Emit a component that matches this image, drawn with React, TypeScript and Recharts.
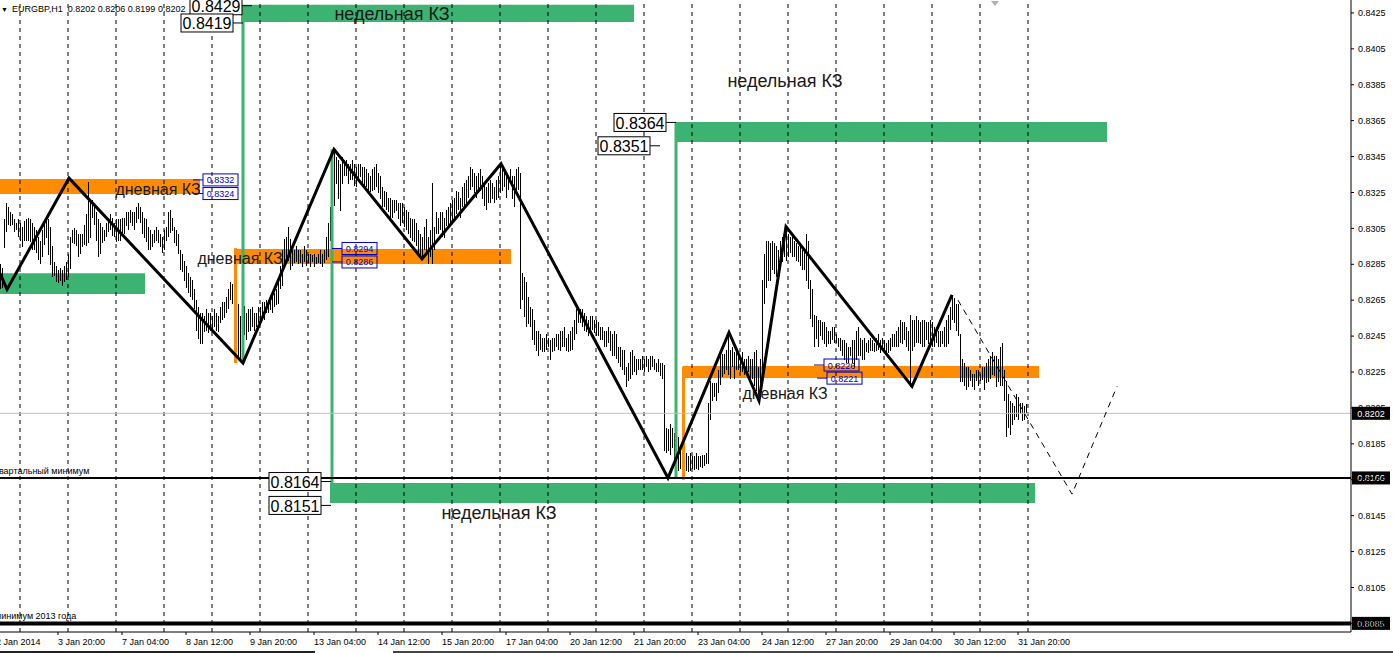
import React from 'react';
import {
  ComposedChart, Bar, Scatter, XAxis, YAxis, ReferenceLine, ReferenceArea, ReferenceDot,
} from 'recharts';

const FONT = '"Liberation Sans", Arial, sans-serif';
const W = 1393;
const H = 653;

// hourly bars, pips above 0.8000 (high / low)
const barHighs = [
  285,283,310,319,317,314,313,310,308,310, 308,306,309,310,311,310,308,306,304,300,
  298,304,308,311,310,306,295,286,284,282, 283,282,284,286,291,300,304,305,304,302,
  302,302,307,313,331,321,321,319,314,310, 308,306,304,308,310,313,311,308,310,310,
  310,311,311,314,314,315,314,314,317,319, 317,314,311,310,306,304,302,304,306,304,
  302,300,304,306,314,315,311,306,304,302, 293,291,287,284,280,278,276,271,265,261,
  258,258,256,260,258,258,256,260,258,256, 261,264,264,267,271,275,274,271,267,263,
  256,271,262,258,260,260,261,258,258,261, 261,264,264,265,265,267,267,269,271,275,
  284,293,299,300,306,299,295,293,295,293, 293,291,295,293,291,291,290,291,289,291,
  293,291,293,300,308,317,336,349,345,343, 341,345,343,343,341,341,343,341,339,341,
  341,339,339,338,336,334,338,339,341,336, 334,328,326,325,322,322,321,321,321,319,
  319,319,317,315,314,311,310,310,308,304, 302,300,306,310,300,304,330,306,314,311,
  314,314,311,315,317,319,321,322,326,325, 322,328,330,332,334,339,338,336,334,336,
  338,334,330,328,330,332,330,328,332,334, 341,338,338,336,334,338,334,334,338,339,
  336,280,278,275,267,261,260,254,248,248, 246,244,244,246,244,243,244,244,246,246,
  248,248,250,244,246,248,250,254,260,261, 260,260,258,256,254,256,256,254,254,253,
  250,250,248,248,250,248,246,248,246,239, 239,237,237,228,230,236,237,234,232,232,
  232,234,232,234,232,234,234,232,230,232, 230,230,229,194,193,196,194,191,196,189,
  181,181,178,180,178,180,178,178,180,178, 178,179,179,180,208,220,219,219,219,226,
  235,235,235,237,245,237,239,236,237,236, 234,236,232,232,234,232,232,236,237,228,
  232,276,291,298,298,297,298,297,295,293, 298,300,304,306,302,300,300,298,297,295,
  295,293,293,302,298,276,271,257,256,254, 254,253,253,250,248,248,250,250,246,244,
  244,243,243,241,239,239,243,243,248,250, 244,243,244,241,243,244,243,241,244,246,
  243,244,243,241,243,244,246,246,248,250, 254,253,253,250,248,257,254,254,256,254,
  253,254,254,253,253,254,253,250,250,248, 248,248,250,254,257,261,268,266,263,263,
  246,232,230,228,228,226,224,224,226,226, 224,228,228,230,232,234,236,234,234,232,
  239,241,226,220,213,209,208,206,213,211, 208,208,206,207,
];
const barLows = [
  271,272,294,303,307,306,307,303,304,300, 298,295,298,298,298,297,293,293,291,287,
  285,289,296,300,290,285,278,278,275,275, 276,273,275,276,278,282,297,296,295,289,
  291,295,296,295,297,300,311,307,298,289, 291,297,298,300,303,304,301,300,297,298,
  298,302,302,306,304,308,306,304,308,310, 308,302,300,297,293,293,295,297,298,297,
  295,291,293,298,300,302,304,297,295,291, 282,281,276,272,269,267,265,260,248,243,
  241,241,247,248,247,248,248,250,248,247, 252,254,255,258,260,265,263,250,237,232,
  231,243,246,243,247,248,250,248,250,252, 254,255,254,258,258,260,258,261,262,263,
  271,273,284,287,287,282,284,286,286,285, 286,284,286,284,286,284,286,284,285,286,
  285,284,286,287,289,298,306,317,330,321, 315,330,334,334,330,332,332,329,328,332,
  334,330,328,328,326,325,326,326,328,325, 321,317,317,315,314,311,311,314,315,310,
  306,308,306,304,302,300,298,297,295,291, 289,287,293,291,285,289,285,293,302,302,
  304,300,300,306,306,308,310,310,313,315, 311,317,317,319,322,326,328,325,322,325,
  326,321,317,315,319,319,321,319,321,322, 325,326,328,322,326,330,321,317,325,326,
  260,265,256,250,252,250,243,240,237,234, 237,236,236,237,239,232,236,237,239,237,
  237,239,239,237,236,237,237,243,246,252, 252,250,248,247,245,247,248,247,245,245,
  243,243,239,239,241,237,234,234,232,230, 228,226,223,217,220,221,223,225,223,226,
  226,226,225,228,225,226,228,226,225,225, 223,221,181,180,181,179,183,176,174,170,
  171,170,166,170,169,170,171,170,171,170, 172,172,173,174,174,198,209,211,209,213,
  218,222,224,226,223,221,228,221,226,226, 225,225,223,223,225,221,221,217,214,209,
  214,226,263,272,276,276,282,280,278,280, 284,286,289,287,289,291,289,289,287,286,
  284,282,282,276,271,254,250,239,243,239, 245,243,241,239,241,241,243,241,241,239,
  237,234,232,230,230,234,230,228,232,234, 234,232,232,236,236,237,237,236,237,237,
  236,237,236,236,236,237,239,239,239,239, 241,241,243,239,237,217,237,239,241,241,
  241,239,239,243,241,241,239,239,241,239, 239,241,239,239,241,248,254,252,248,245,
  219,219,217,215,217,220,217,215,220,217, 220,221,215,219,219,221,223,223,217,219,
  217,217,209,189,194,190,196,198,200,198, 202,198,198,202,
];

// daily separators (bar units)
const dayLines = [10,34,58,82,106,130,154,178,202,226,250,274,298,322,346,370,394,418,442,466,490,514];

// time axis
const timeTicks = [-2,29,61,93,125,157,189,221,253,285,317,349,381,413,445,477,509];
const timeLabels = [
  '2 Jan 2014','3 Jan 20:00','7 Jan 04:00','8 Jan 12:00','9 Jan 20:00','13 Jan 04:00',
  '14 Jan 12:00','15 Jan 20:00','17 Jan 04:00','20 Jan 12:00','21 Jan 20:00','23 Jan 04:00',
  '24 Jan 12:00','27 Jan 20:00','29 Jan 04:00','30 Jan 12:00','31 Jan 20:00',
];

// price axis
const priceTicks = [0.8085,0.8105,0.8125,0.8145,0.8165,0.8185,0.8205,0.8225,0.8245,0.8265,0.8285,0.8305,0.8325,0.8345,0.8365,0.8385,0.8405,0.8425];
const priceDomain = [0.80802, 0.84322];
const xDomain = [0, 675.5];

// zigzag swing points
const zigzag = [
  { x: 0, y: 0.8280 }, { x: 3.5, y: 0.8271 }, { x: 34.5, y: 0.8333 }, { x: 121.5, y: 0.8230 },
  { x: 167, y: 0.8349 }, { x: 211, y: 0.8288 }, { x: 250.5, y: 0.8341 }, { x: 334, y: 0.8166 },
  { x: 364.5, y: 0.8247 }, { x: 379.5, y: 0.8209 }, { x: 393, y: 0.8306 }, { x: 456, y: 0.8217 },
  { x: 476, y: 0.8268 },
];
const projection = [{ x: 479, y: 0.8265 }, { x: 536, y: 0.8157 }, { x: 558.5, y: 0.8217 }];

// zones
const weeklyZones = [
  { x1: 120.5, x2: 317, y1: 0.8420, y2: 0.84295 },
  { x1: 337.5, x2: 553.5, y1: 0.83531, y2: 0.83643 },
  { x1: 165, x2: 517.5, y1: 0.8152, y2: 0.81632 },
  { x1: 0, x2: 72.5, y1: 0.82685, y2: 0.8280 },
];
const dailyZones = [
  { x1: 0, x2: 100, y1: 0.83242, y2: 0.83325 },
  { x1: 117, x2: 255.5, y1: 0.82852, y2: 0.82935 },
  { x1: 341.5, x2: 519.5, y1: 0.82217, y2: 0.82283 },
];
const weeklyLegs = [
  { x: 121.5, from: 0.8429, to: 0.8230 },
  { x: 166, from: 0.8349, to: 0.8163 },
  { x: 338, from: 0.8364, to: 0.8166 },
];
const dailyLegs = [
  { x: 117.75, from: 0.8294, to: 0.8230 },
  { x: 341.75, from: 0.8228, to: 0.8165 },
];

// annotations
const weeklyTexts = [{ x: 196, y: 0.84244 }, { x: 392.5, y: 0.83871 }, { x: 249.5, y: 0.81464 }];
const dailyTexts = [{ x: 79, y: 0.83264 }, { x: 120, y: 0.82885 }, { x: 392.5, y: 0.82128 }];
const bigTags = [
  { label: '0.8429', x: 126, y: 0.8429 },
  { label: '0.8419', x: 121.5, y: 0.84194 },
  { label: '0.8364', x: 338, y: 0.8364 },
  { label: '0.8351', x: 330, y: 0.83510 },
  { label: '0.8164', x: 165.5, y: 0.81640 },
  { label: '0.8151', x: 165.5, y: 0.81507 },
];
const blueTags = [
  { label: '0.8332', x: 101.5, y: 0.83320 },
  { label: '0.8324', x: 101.5, y: 0.83244 },
  { label: '0.8294', x: 171, y: 0.82938 },
  { label: '0.8286', x: 171, y: 0.82863 },
  { label: '0.8226', x: 412, y: 0.82289 },
  { label: '0.8221', x: 413.5, y: 0.82216 },
];
const levels = [
  { y: 0.8202, label: '0.8202', note: '', color: '#c0c0c0', width: 1 },
  { y: 0.8166, label: '0.8166', note: 'квартальный минимум', color: '#000', width: 2 },
  { y: 0.8085, label: '0.8085', note: 'минимум 2013 года', color: '#000', width: 4 },
];

const GREEN = '#3CB371';
const ORANGE = '#FF8C00';
const P = (v: number) => 0.8 + v / 10000;
const rows = barHighs.map((h, i) => ({ x: i + 0.5, range: [P(barLows[i]), P(h)] }));

const Empty = () => <g />;

const PriceBar = (p: any) => {
  if (p.x == null || p.height == null) return <g />;
  const left = Math.round(p.x + p.width / 2 - 0.5);
  const top = Math.round(p.y);
  const h = Math.max(1, Math.round(p.height));
  return <rect x={left} y={top} width={1} height={h} fill="#000" shapeRendering="crispEdges" />;
};

const TimeTick = (props: any) => {
  const { x, y, payload } = props;
  const idx = timeTicks.indexOf(payload.value);
  return (
    <text x={x} y={y + 8} fontSize={9} fontFamily={FONT} fill="#000">{timeLabels[idx]}</text>
  );
};

const BigTag = ({ cx, cy, text }: any) => {
  const w = 52, h = 18, conn = 10;
  const right = cx - conn;
  return (
    <g>
      <line x1={right} y1={cy} x2={cx} y2={cy} stroke="#000" strokeWidth={1} />
      <rect x={right - w} y={cy - h / 2} width={w} height={h} fill="#fff" stroke="#000" strokeWidth={1} />
      <text x={right - w / 2} y={cy + 1} textAnchor="middle" dominantBaseline="central" fontSize={16} fontFamily={FONT} fill="#000">{text}</text>
    </g>
  );
};

const BlueTag = ({ cx, cy, text }: any) => {
  const w = 35, h = 12, conn = 10;
  return (
    <g>
      <line x1={cx - conn} y1={cy} x2={cx} y2={cy} stroke="#0000c8" strokeWidth={1} />
      <rect x={cx} y={cy - h / 2} width={w} height={h} fill="none" stroke="#0000c8" strokeWidth={1} />
      <text x={cx + w / 2} y={cy + 0.5} textAnchor="middle" dominantBaseline="central" fontSize={9} fontFamily={FONT} fill="#0000c8">{text}</text>
    </g>
  );
};

const ZoneText = ({ cx, cy, text, size }: any) => (
  <text x={cx} y={cy} textAnchor="middle" dominantBaseline="central" fontSize={size} fontFamily={FONT} fill="#1a1a1a">{text}</text>
);

const LevelLabel = (props: any) => {
  const { viewBox, text, note } = props;
  const right = viewBox.x + viewBox.width;
  const y = viewBox.y;
  return (
    <g>
      {note ? (
        <text x={viewBox.x - 5} y={y - 4} fontSize={9} fontFamily={FONT} fill="#000">{note}</text>
      ) : null}
      <rect x={right + 1} y={y - 6.5} width={38} height={13} fill="#000" />
      <text x={right + 20} y={y + 0.5} textAnchor="middle" dominantBaseline="central" fontSize={9} fontFamily={FONT} fill="#fff">{text}</text>
    </g>
  );
};

const ShiftMark = ({ cx, cy }: any) => (
  <polygon points={`${cx - 4},${cy - 3} ${cx + 4},${cy - 3} ${cx},${cy + 2}`} fill="#b0b0b0" />
);

export default function App() {
  return (
    <div style={{ position: 'relative', width: W, height: H, background: '#fff', overflow: 'hidden' }}>
      <style>{'body{margin:0;}'}</style>
      <ComposedChart width={W} height={H} data={rows} margin={{ top: 0, right: 0, bottom: 0, left: 0 }}>
        <XAxis
          type="number" dataKey="x" domain={xDomain} allowDataOverflow
          ticks={timeTicks} interval={0} height={21}
          tick={<TimeTick />} tickSize={3} tickMargin={2}
          axisLine={{ stroke: '#000' }} tickLine={{ stroke: '#000' }}
        />
        <YAxis
          orientation="right" type="number" domain={priceDomain} allowDataOverflow
          ticks={priceTicks} interval={0} width={42}
          tickFormatter={(v: number) => v.toFixed(4)}
          tick={{ fontSize: 9, fill: '#000', fontFamily: FONT, textAnchor: 'start' }}
          tickSize={3} tickMargin={4}
          axisLine={{ stroke: '#000' }} tickLine={{ stroke: '#000' }}
        />

        {weeklyZones.map((z, i) => (
          <ReferenceArea key={'wz' + i} x1={z.x1} x2={z.x2} y1={z.y1} y2={z.y2} fill={GREEN} fillOpacity={1} stroke="none" />
        ))}
        {dailyZones.map((z, i) => (
          <ReferenceArea key={'dz' + i} x1={z.x1} x2={z.x2} y1={z.y1} y2={z.y2} fill={ORANGE} fillOpacity={1} stroke="none" />
        ))}
        {dayLines.map((d) => (
          <ReferenceLine key={'d' + d} x={d} stroke="#000" strokeWidth={1} strokeDasharray="4 4" />
        ))}
        {weeklyLegs.map((l, i) => (
          <ReferenceLine key={'wl' + i} segment={[{ x: l.x, y: l.from }, { x: l.x, y: l.to }]} stroke={GREEN} strokeWidth={3} />
        ))}
        {dailyLegs.map((l, i) => (
          <ReferenceLine key={'dl' + i} segment={[{ x: l.x, y: l.from }, { x: l.x, y: l.to }]} stroke={ORANGE} strokeWidth={3} />
        ))}
        {levels.map((l) => (
          <ReferenceLine
            key={'lv' + l.label} y={l.y} stroke={l.color} strokeWidth={l.width}
            label={<LevelLabel text={l.label} note={l.note} />}
          />
        ))}

        <Bar dataKey="range" barSize={1} fill="#000" isAnimationActive={false} shape={<PriceBar />} />

        <Scatter
          data={zigzag} dataKey="y" shape={<Empty />} isAnimationActive={false}
          line={{ stroke: '#000', strokeWidth: 3 }} lineJointType="linear"
        />
        <Scatter
          data={projection} dataKey="y" shape={<Empty />} isAnimationActive={false}
          line={{ stroke: '#000', strokeWidth: 1, strokeDasharray: '6 5' }} lineJointType="linear"
        />

        {weeklyTexts.map((t, i) => (
          <ReferenceDot key={'wt' + i} x={t.x} y={t.y} r={0}
            shape={(p: any) => <ZoneText cx={p.cx} cy={p.cy} text="недельная КЗ" size={18} />} />
        ))}
        {dailyTexts.map((t, i) => (
          <ReferenceDot key={'dt' + i} x={t.x} y={t.y} r={0}
            shape={(p: any) => <ZoneText cx={p.cx} cy={p.cy} text="дневная КЗ" size={16} />} />
        ))}
        {bigTags.map((t) => (
          <ReferenceDot key={'bt' + t.label} x={t.x} y={t.y} r={0}
            shape={(p: any) => <BigTag cx={p.cx} cy={p.cy} text={t.label} />} />
        ))}
        {blueTags.map((t) => (
          <ReferenceDot key={'bl' + t.label} x={t.x} y={t.y} r={0}
            shape={(p: any) => <BlueTag cx={p.cx} cy={p.cy} text={t.label} />} />
        ))}
        <ReferenceDot x={497.5} y={0.8430} r={0} shape={(p: any) => <ShiftMark cx={p.cx} cy={p.cy} />} />
      </ComposedChart>

      <div style={{ position: 'absolute', left: 0, top: 3, width: 189, overflow: 'hidden', whiteSpace: 'nowrap', fontFamily: FONT, fontSize: 9, lineHeight: '12px', color: '#000' }}>
        <span style={{ fontSize: 7, marginLeft: 1, marginRight: 4 }}>▼</span>EURGBP,H1&nbsp;&nbsp;0.8202 0.8206 0.8199 0.8202
      </div>
      <div style={{ position: 'absolute', left: 0, top: 651, width: 315, height: 2, background: '#222' }} />
      <div style={{ position: 'absolute', left: 393, top: 651, width: 1000, height: 2, background: '#444' }} />
    </div>
  );
}
